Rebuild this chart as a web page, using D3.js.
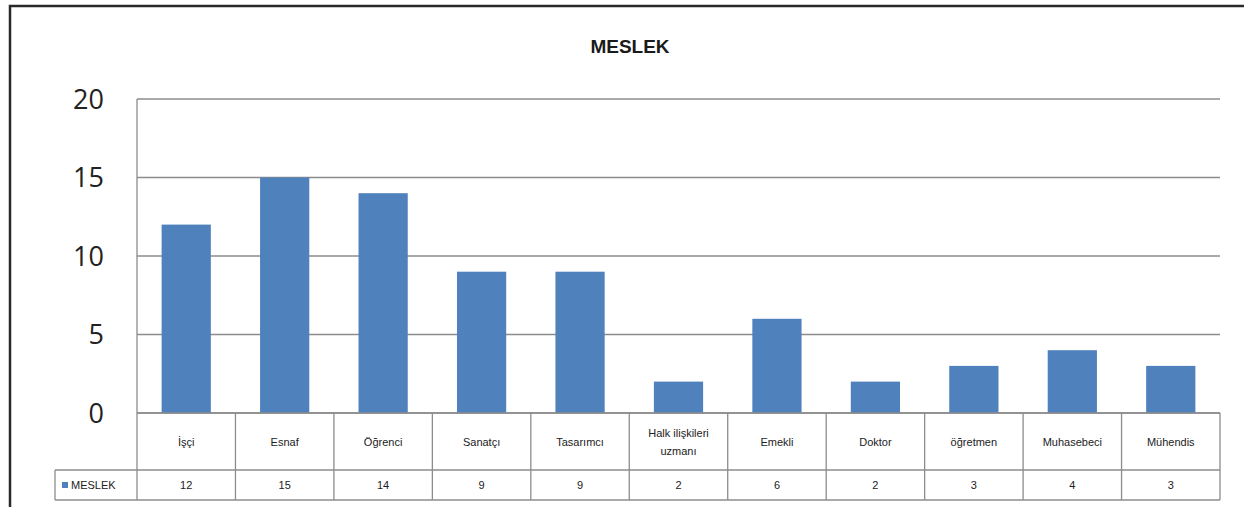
<!DOCTYPE html>
<html><head><meta charset="utf-8">
<script src="https://cdn.jsdelivr.net/npm/d3@7"></script>
<style>body{margin:0;background:#fff}svg{display:block}</style>
</head><body>
<svg id="c" width="1244" height="507"></svg>
<script>
const categories = ["İşçi","Esnaf","Öğrenci","Sanatçı","Tasarımcı","Halk ilişkileri uzmanı","Emekli","Doktor","öğretmen","Muhasebeci","Mühendis"];
const values = [12,15,14,9,9,2,6,2,3,4,3];
const yTicks = [0,5,10,15,20];
const seriesName = "MESLEK";
const title = "MESLEK";

(function(){
const svg = d3.select("#c");
const pLeft = 137, pRight = 1220, pTop = 99, pBottom = 413;
const rowCat = 470, rowVal = 500, legendLeft = 55;
const blue = "#4F81BD", grid = "#8c8c8c";

svg.append("rect").attr("x",10).attr("y",6).attr("width",1250).attr("height",520)
  .attr("fill","#fff").attr("stroke","#2a2a2a").attr("stroke-width",2.5);

svg.append("text").attr("x",630).attr("y",53).attr("text-anchor","middle")
  .attr("font-family","Liberation Sans, Arial, sans-serif").attr("font-weight","bold")
  .attr("font-size",19).attr("fill","#1a1a1a").text(title);

const x = d3.scaleBand().domain(categories).range([pLeft,pRight]).paddingInner(0).paddingOuter(0);
const y = d3.scaleLinear().domain([0,20]).range([pBottom,pTop]);

svg.append("g").selectAll("line").data(yTicks).join("line")
  .attr("x1",pLeft).attr("x2",pRight).attr("y1",d=>y(d)).attr("y2",d=>y(d))
  .attr("stroke",grid).attr("stroke-width",1.3);

svg.append("line").attr("x1",pLeft).attr("x2",pLeft).attr("y1",pTop).attr("y2",pBottom)
  .attr("stroke",grid).attr("stroke-width",1.3);

svg.append("g").selectAll("text").data(yTicks).join("text")
  .attr("x",104).attr("y",d=>y(d)+9.5).attr("text-anchor","end")
  .attr("font-family","Open Sans, Liberation Sans, sans-serif").attr("font-size",27).attr("fill","#222")
  .text(d=>d);

const bw = x.bandwidth()*0.5;
svg.append("g").selectAll("rect").data(values).join("rect")
  .attr("x",(d,i)=>x(categories[i])+x.bandwidth()/2-bw/2)
  .attr("y",d=>y(d)).attr("width",bw).attr("height",d=>pBottom-y(d))
  .attr("fill",blue);

const tg = svg.append("g").attr("stroke","#8c8c8c").attr("stroke-width",1.3);
tg.append("line").attr("x1",pLeft).attr("x2",pRight).attr("y1",pBottom).attr("y2",pBottom);
tg.append("line").attr("x1",legendLeft).attr("x2",pRight).attr("y1",rowCat).attr("y2",rowCat);
tg.append("line").attr("x1",legendLeft).attr("x2",pRight).attr("y1",rowVal).attr("y2",rowVal);
tg.append("line").attr("x1",legendLeft).attr("x2",legendLeft).attr("y1",rowCat).attr("y2",rowVal);
const cols = categories.map(c=>x(c)).concat([pRight]);
tg.selectAll("line.v").data(cols).join("line").attr("class","v")
  .attr("x1",d=>d).attr("x2",d=>d).attr("y1",pBottom).attr("y2",rowVal);

const font = "Liberation Sans, Arial, sans-serif";
const catG = svg.append("g").attr("font-family",font).attr("font-size",11).attr("fill","#222").attr("text-anchor","middle");
categories.forEach(c=>{
  const cx = x(c)+x.bandwidth()/2;
  if (c === "Halk ilişkileri uzmanı") {
    catG.append("text").attr("x",cx).attr("y",437).text("Halk ilişkileri");
    catG.append("text").attr("x",cx).attr("y",455).text("uzmanı");
  } else {
    catG.append("text").attr("x",cx).attr("y",446).text(c);
  }
});
svg.append("g").attr("font-family",font).attr("font-size",11).attr("fill","#222").attr("text-anchor","middle")
  .selectAll("text").data(values).join("text")
  .attr("x",(d,i)=>x(categories[i])+x.bandwidth()/2).attr("y",489).text(d=>d);

svg.append("rect").attr("x",62).attr("y",482).attr("width",6).attr("height",6).attr("fill",blue);
svg.append("text").attr("x",71).attr("y",489).attr("font-family",font).attr("font-size",11).attr("fill","#222").text(seriesName);
})();
</script>
</body></html>
